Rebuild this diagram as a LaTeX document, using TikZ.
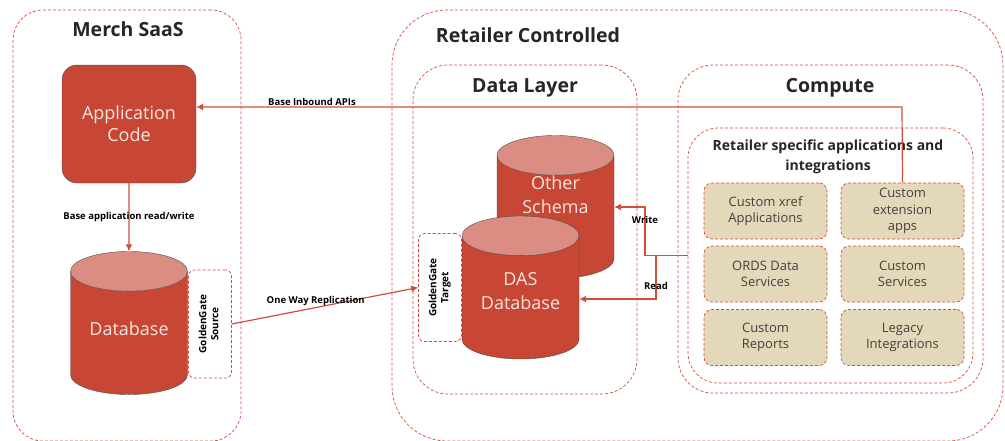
\documentclass[tikz,border=0pt]{standalone}
\usepackage{fontspec}
\setmainfont{Open Sans}
\usepackage{tikz}
\usetikzlibrary{shapes.geometric,arrows.meta,calc}
\definecolor{oraRed}{HTML}{C74634}
\definecolor{oraLine}{HTML}{D04E3B}
\definecolor{dbTop}{HTML}{DC8D83}
\definecolor{tileFill}{HTML}{E4D8BB}
\definecolor{tileText}{HTML}{45403C}
\definecolor{boxText}{HTML}{F7E4E0}

\begin{document}
\begin{tikzpicture}[x = 1pt, y = -1pt,
every node/.style = {inner sep = 0pt}]

\tikzset{
	group_box/.style = {
		draw = oraLine, dash pattern = on 3pt off 2pt, line width = 0.7pt
	},
	group_title/.style = {
		font = \fontsize{19.5}{22}\selectfont\bfseries, text = black!85
	},
	app_box/.style = {
		fill = oraRed, draw = black!70, rounded corners = 15pt, text = boxText,
		align = center, font = \fontsize{18}{22}\selectfont,
		minimum width = 134pt, minimum height = 118pt
	},
	db_cyl/.style = {
		cylinder, shape border rotate = 90, aspect = 0.5, draw = black!70,
		cylinder uses custom fill, cylinder body fill = oraRed,
		cylinder end fill = dbTop, anchor = shape center,
		font = \fontsize{18}{23}\selectfont,
		minimum width = 117pt, minimum height = 143pt
	},
	db_text/.style = {
		text = boxText, align = center, font = \fontsize{18}{24}\selectfont
	},
	gg_box/.style = {
		group_box, rounded corners = 6pt, fill = white,
		font = \fontsize{10}{12}\selectfont\bfseries,
		minimum width = 43pt, minimum height = 108pt
	},
	tile_box/.style = {
		group_box, fill = tileFill, rounded corners = 8pt, text = tileText,
		align = center, font = \fontsize{13}{16.5}\selectfont,
		minimum width = 123pt, minimum height = 56pt
	},
	link/.style = {
		draw = oraLine, line width = 1.2pt, -{Latex[length = 7pt, width = 7pt]}
	},
	link_label/.style = {
		font = \fontsize{9.5}{11}\selectfont\bfseries, inner sep = 1pt
	}
}

\useasboundingbox (0,0) rectangle (1005,440);

% Contenedores
\node[group_box, rounded corners = 30pt, minimum width = 228pt, minimum height = 431pt] (Merch) at (127,225.5) {};
\node[group_box, rounded corners = 55pt, minimum width = 611pt, minimum height = 431pt] (Retail) at (697.5,225.5) {};
\node[group_box, rounded corners = 35pt, minimum width = 224pt, minimum height = 329pt] (DataLayer) at (525,229.5) {};
\node[group_box, rounded corners = 35pt, minimum width = 305pt, minimum height = 328pt] (Compute) at (830.5,229) {};
\node[group_box, rounded corners = 30pt, minimum width = 285pt, minimum height = 255pt] (Inner) at (830.5,255.5) {};

\node[group_title] (MerchT) at (128,29) {Merch SaaS};
\node[group_title] (RetailT) at (528,35) {Retailer Controlled};
\node[group_title] (DataT) at (525,88) {Data Layer};
\node[group_title] (ComputeT) at (830,88) {Compute};
\node[group_title, align = center, font = \fontsize{14}{19.5}\selectfont\bfseries] (InnerT) at (828,157)
	{Retailer specific applications and\\integrations};

% Merch SaaS
\node[app_box] (App) at (129,124) {Application\\Code};
\node[db_cyl] (DB) at (129,323) {\phantom{Database}};
\node[db_text] (DBT) at ($(DB.shape center)+(0,6)$) {Database};
\node[gg_box] (GGS) at (210,324) {\rotatebox{90}{\begin{tabular}{@{}c@{}}GoldenGate\\Source\end{tabular}}};

% Data Layer
\node[db_cyl] (OS) at (555.5,207) {\phantom{Database}};
\node[db_text] (OST) at ($(OS.shape center)+(0,-12)$) {Other\\Schema};
\node[db_cyl] (DAS) at (520.5,287.5) {\phantom{Database}};
\node[db_text] (DAST) at ($(DAS.shape center)+(0,4)$) {DAS\\Database};
\node[gg_box] (GGT) at (440,287.5) {\rotatebox{90}{\begin{tabular}{@{}c@{}}GoldenGate\\Target\end{tabular}}};

% Compute
\node[tile_box] (Xref) at (765.5,211) {Custom xref\\Applications};
\node[tile_box] (Ext) at (902.5,211) {Custom\\extension\\apps};
\node[tile_box] (ORDS) at (765.5,274) {ORDS Data\\Services};
\node[tile_box] (Serv) at (902.5,274) {Custom\\Services};
\node[tile_box] (Rep) at (765.5,337.5) {Custom\\Reports};
\node[tile_box] (Leg) at (902.5,337.5) {Legacy\\Integrations};

% Conexiones
\coordinate (api_turn) at (902,107);
\coordinate (write_turn) at (645,255.5);
\coordinate (read_turn) at (656,255.5);

\draw[link] (App.south) -- node[link_label] {Base application read/write} (DB.north);
\draw[link] (Ext.north) -- (api_turn) -- node[link_label, pos = 0.836, above] {Base Inbound APIs} (App.east |- api_turn);
\draw[link] (GGS.east) -- node[link_label, pos = 0.45, above] {One Way Replication} (GGT.west);
\draw[link] (Inner.west) -- (write_turn) |- node[link_label, pos = 0.37] {Write} (OS.east |- OS.shape center);
\draw[link] (read_turn) |- node[link_label, pos = 0.35] {Read} ($(DAS.east |- DAS.shape center)+(0,11.5)$);
\end{tikzpicture}
\end{document}
